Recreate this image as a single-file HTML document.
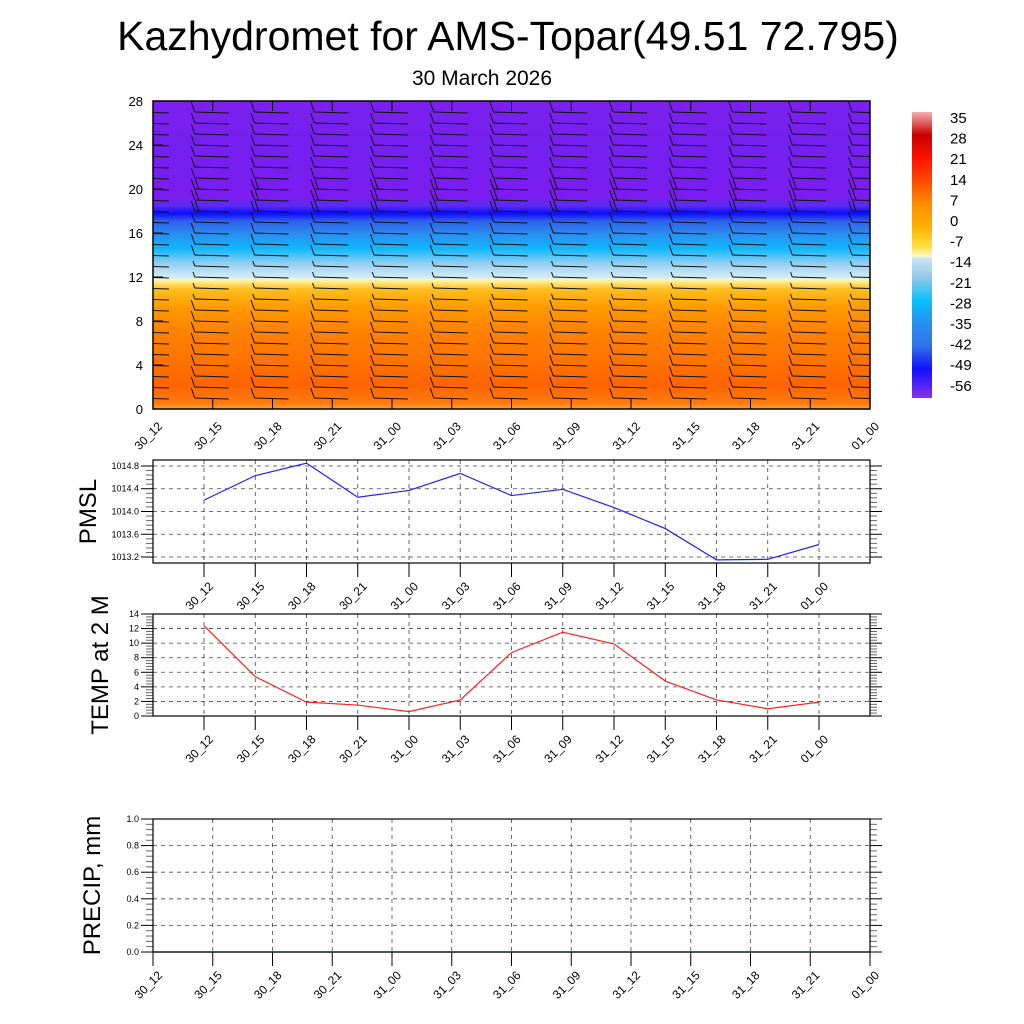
<!DOCTYPE html>
<html><head><meta charset="utf-8"><style>
body{margin:0;background:#fff}
svg{display:block;font-family:"Liberation Sans",sans-serif}
</style></head><body>
<svg id="chart" width="1024" height="1024" viewBox="0 0 1024 1024">
<defs>
<clipPath id="plotclip"><rect x="153" y="101" width="717" height="308"/></clipPath>
<linearGradient id="tgrad" x1="0" y1="1" x2="0" y2="0">
<stop offset="0" stop-color="#ffa020"/>
<stop offset="0.02" stop-color="#ff7a10"/>
<stop offset="0.08" stop-color="#ff6400"/>
<stop offset="0.14" stop-color="#ff7000"/>
<stop offset="0.25" stop-color="#ff8200"/>
<stop offset="0.33" stop-color="#ff9a00"/>
<stop offset="0.39" stop-color="#ffc020"/>
<stop offset="0.42" stop-color="#fff8b0"/>
<stop offset="0.425" stop-color="#d8ecf8"/>
<stop offset="0.47" stop-color="#98d0f0"/>
<stop offset="0.52" stop-color="#10b8ff"/>
<stop offset="0.57" stop-color="#2a8cf0"/>
<stop offset="0.61" stop-color="#3060ea"/>
<stop offset="0.635" stop-color="#0c0cff"/>
<stop offset="0.66" stop-color="#5a2cf0"/>
<stop offset="0.69" stop-color="#7c1cf0"/>
<stop offset="0.85" stop-color="#7420f0"/>
<stop offset="1" stop-color="#7c20ee"/>
</linearGradient>
<linearGradient id="cbgrad" x1="0" y1="0" x2="0" y2="1">
<stop offset="0" stop-color="#f6b0b0"/>
<stop offset="0.08" stop-color="#c80000"/>
<stop offset="0.16" stop-color="#ff1000"/>
<stop offset="0.24" stop-color="#ff4a00"/>
<stop offset="0.32" stop-color="#ff8c00"/>
<stop offset="0.40" stop-color="#ffb000"/>
<stop offset="0.47" stop-color="#ffe040"/>
<stop offset="0.505" stop-color="#fff8c8"/>
<stop offset="0.51" stop-color="#cce6f6"/>
<stop offset="0.58" stop-color="#90c8e8"/>
<stop offset="0.66" stop-color="#08c0ff"/>
<stop offset="0.74" stop-color="#2890f0"/>
<stop offset="0.82" stop-color="#3070e8"/>
<stop offset="0.90" stop-color="#1010ff"/>
<stop offset="1" stop-color="#8a30f0"/>
</linearGradient>
</defs>
<text x="508" y="50" font-size="41" text-anchor="middle">Kazhydromet for AMS-Topar(49.51 72.795)</text>
<text x="482" y="85" font-size="21" text-anchor="middle">30 March 2026</text>
<rect x="153" y="101" width="717" height="308" fill="url(#tgrad)"/>
<rect x="912" y="112" width="20" height="286" fill="url(#cbgrad)"/>
<g id="g"></g>
</svg>
<script>
const timeLabels=["30_12","30_15","30_18","30_21","31_00","31_03","31_06","31_09","31_12","31_15","31_18","31_21","01_00"];
const pmsl=[1014.2,1014.63,1014.85,1014.25,1014.37,1014.67,1014.28,1014.39,1014.07,1013.7,1013.15,1013.16,1013.42];
const temp2m=[12.4,5.4,1.9,1.5,0.6,2.2,8.7,11.5,9.9,4.8,2.2,1.0,1.9];
const precip=[0,0,0,0,0,0,0,0,0,0,0,0,0];
const heightTicks=[0,4,8,12,16,20,24,28];
const pmslTicks=[1013.2,1013.6,1014.0,1014.4,1014.8];
const tempTicks=[0,2,4,6,8,10,12,14];
const precipTicks=[0,0.2,0.4,0.6,0.8,1.0];
const cbLabels=["35","28","21","14","7","0","-7","-14","-21","-28","-35","-42","-49","-56"];
const barbLevels=[1,2,3,4,5,6,7,8,9,10,11,12,13,14,15,16,17,18,19,20,21,22,23,24,25,26,27];
const barbFeathers=[1,1,1,1,1,1,1,1,1,0.5,0.5,0.5,0.5,1,1,1,1,2,2,2,1,1,1,1,1,1,1];

const NS="http://www.w3.org/2000/svg";
const G=document.getElementById('g');
function el(tag,attrs,parent){const e=document.createElementNS(NS,tag);for(const k in attrs)e.setAttribute(k,attrs[k]);(parent||G).appendChild(e);return e;}
function txt(x,y,s,size,anchor,rot){const t=el('text',{x:x,y:y,'font-size':size,'text-anchor':anchor||'middle'});if(rot)t.setAttribute('transform',`rotate(${rot} ${x} ${y})`);t.textContent=s;return t;}

const T={x0:153,x1:870,y0:101,y1:409,max:28};
const tx=i=>T.x0+i*(T.x1-T.x0)/12;
const ty=v=>T.y1-v*(T.y1-T.y0)/T.max;
const barbs=el('g',{stroke:'#111','stroke-width':1,fill:'none','clip-path':'url(#plotclip)'});


for(let i=0;i<13;i++){
  barbLevels.forEach((lv,j)=>{
    const cx=tx(i),cy=ty(lv);
    const xl=cx-18,xr=cx+16;
    el('line',{x1:xl,y1:cy,x2:xr,y2:cy+1},barbs);
    const f=barbFeathers[j];
    const n=Math.ceil(f);
    for(let k=0;k<n;k++){
      const len=(k===n-1&&f%1)?5:10;
      el('line',{x1:xl+k*4,y1:cy,x2:xl+k*4-len*0.35,y2:cy-len},barbs);
    }
  });
}
const ta=el('g',{});


heightTicks.forEach(v=>{
  el('line',{x1:T.x0,y1:ty(v),x2:T.x0+10,y2:ty(v),stroke:'#000'},ta);
  const t=txt(T.x0-10,ty(v)+5,String(v),13,'end');ta.appendChild(t);
});
for(let i=0;i<13;i++){
  el('line',{x1:tx(i),y1:T.y1,x2:tx(i),y2:T.y1-10,stroke:'#000'},ta);
  el('line',{x1:tx(i),y1:T.y0,x2:tx(i),y2:T.y0+10,stroke:'#000'},ta);
  const t=txt(tx(i)+10,T.y1+18,timeLabels[i],12,'end',-45);ta.appendChild(t);
}
el('rect',{x:T.x0,y:T.y0,width:T.x1-T.x0,height:T.y1-T.y0,fill:'none',stroke:'#000','stroke-width':1.5},ta);
cbLabels.forEach((s,i)=>{txt(950,123+i*20.6,s,15,'start');});

function panel(name,y0,y1,vmin,vmax,ticks,fmt,vals,color,xs,title,titleX){
  const X0=153,X1=870;
  const gy=v=>y1-(v-vmin)*(y1-y0)/(vmax-vmin);
  const g=el('g',{});
  
  
  ticks.forEach(v=>{
    el('line',{x1:X0,y1:gy(v),x2:X1,y2:gy(v),stroke:'#444','stroke-dasharray':'4 4','stroke-width':0.8},g);
    el('line',{x1:X0-12,y1:gy(v),x2:X0,y2:gy(v),stroke:'#000'},g);
    el('line',{x1:X1,y1:gy(v),x2:X1+12,y2:gy(v),stroke:'#000'},g);
    g.appendChild(txt(X0-14,gy(v)+3,fmt(v),9,'end'));
  });
  for(let k=0;k<ticks.length-1;k++){for(let m=1;m<5;m++){const v=ticks[k]+(ticks[k+1]-ticks[k])*m/5;
    el('line',{x1:X0-7,y1:gy(v),x2:X0,y2:gy(v),stroke:'#666'},g);el('line',{x1:X1,y1:gy(v),x2:X1+7,y2:gy(v),stroke:'#666'},g);}}
  xs.forEach((x,i)=>{
    el('line',{x1:x,y1:y0,x2:x,y2:y1,stroke:'#444','stroke-dasharray':'4 4','stroke-width':0.8},g);
    el('line',{x1:x,y1:y1,x2:x,y2:y1+14,stroke:'#000'},g);
    g.appendChild(txt(x+10,y1+24,timeLabels[i],12,'end',-45));
  });
  const pl=el('polyline',{points:vals.map((v,i)=>xs[i]+','+gy(v)).join(' '),fill:'none',stroke:color,'stroke-width':1.2},g);
  
  
  el('rect',{x:X0,y:y0,width:X1-X0,height:y1-y0,fill:'none',stroke:'#000','stroke-width':1.2},g);
  const t=txt(titleX,(y0+y1)/2,title,24,'middle',-90);g.appendChild(t);
}
const xsA=timeLabels.map((_,i)=>204+i*51.25);
const xsB=timeLabels.map((_,i)=>tx(i));
panel('pmsl',460,563,1013.095,1014.905,pmslTicks,v=>v.toFixed(1),pmsl,'#2020ff',xsA,'PMSL',96);
panel('temp',614,716,0,14,tempTicks,v=>String(v),temp2m,'#ff2020',xsA,'TEMP at 2 M',108);
panel('precip',819,952,0,1,precipTicks,v=>v.toFixed(1),precip,'#006000',xsB,'PRECIP, mm',100);
</script>
</body></html>
